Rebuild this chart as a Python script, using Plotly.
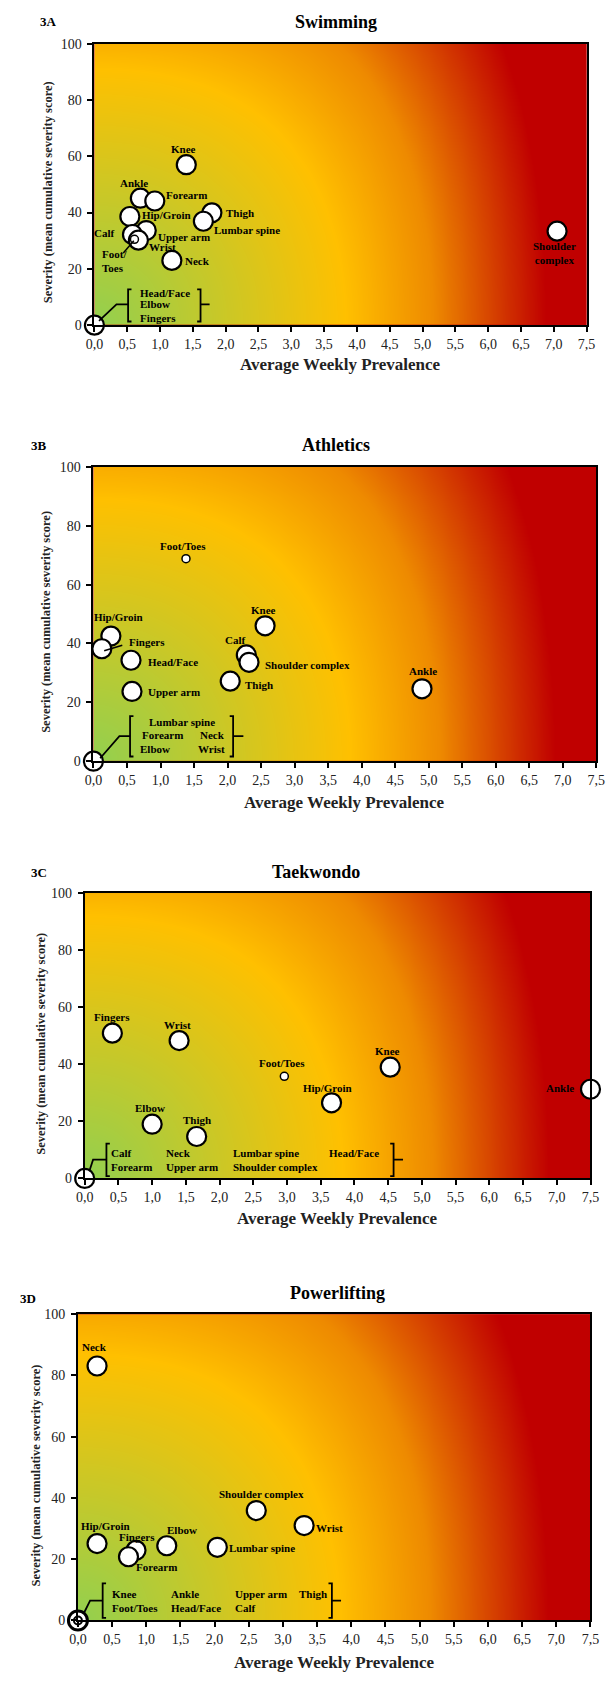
import numpy as np
import plotly.graph_objects as go

W, H = 616, 1681

# ---------------- DATA ----------------
x_tick_vals = [0, 0.5, 1, 1.5, 2, 2.5, 3, 3.5, 4, 4.5, 5, 5.5, 6, 6.5, 7, 7.5]
x_tick_labels = ["0,0", "0,5", "1,0", "1,5", "2,0", "2,5", "3,0", "3,5",
                 "4,0", "4,5", "5,0", "5,5", "6,0", "6,5", "7,0", "7,5"]
y_tick_vals = [0, 20, 40, 60, 80, 100]
y_tick_labels = ["0", "20", "40", "60", "80", "100"]

x_title = "Average Weekly Prevalence"
y_title = "Severity (mean cumulative severity score)"

# 3A Swimming
swim_parts = ["Knee", "Ankle", "Forearm", "Hip/Groin", "Thigh", "Lumbar spine",
              "Upper arm", "Calf", "Wrist", "Foot/Toes", "Neck", "Shoulder complex"]
swim_prev = [1.40, 0.70, 0.92, 0.54, 1.79, 1.66, 0.79, 0.58, 0.67, 0.61, 1.18, 7.05]
swim_sev = [57.0, 45.1, 44.1, 38.6, 39.9, 36.9, 33.6, 32.2, 30.2, 30.5, 23.0, 33.4]
swim_zero = [["Head/Face", "Elbow", "Fingers"]]

# 3B Athletics
ath_parts = ["Foot/Toes", "Knee", "Hip/Groin", "Fingers", "Head/Face", "Upper arm",
             "Calf", "Shoulder complex", "Thigh", "Ankle"]
ath_prev = [1.38, 2.56, 0.26, 0.125, 0.56, 0.575, 2.28, 2.32, 2.04, 4.90]
ath_sev = [68.8, 46.0, 42.5, 38.2, 34.3, 23.7, 36.1, 33.6, 27.2, 24.6]
ath_zero = [["Lumbar spine", "Forearm", "Elbow"], ["", "Neck", "Wrist"]]

# 3C Taekwondo
tkd_parts = ["Fingers", "Wrist", "Foot/Toes", "Knee", "Hip/Groin", "Ankle", "Elbow", "Thigh"]
tkd_prev = [0.41, 1.40, 2.96, 4.53, 3.66, 7.50, 1.00, 1.66]
tkd_sev = [50.9, 48.3, 35.8, 39.0, 26.5, 31.25, 19.0, 14.7]
tkd_zero = [["Calf", "Forearm"], ["Neck", "Upper arm"],
            ["Lumbar spine", "Shoulder complex"], ["Head/Face", ""]]

# 3D Powerlifting
pl_parts = ["Neck", "Shoulder complex", "Wrist", "Hip/Groin", "Elbow", "Lumbar spine",
            "Fingers", "Forearm"]
pl_prev = [0.28, 2.61, 3.31, 0.28, 1.30, 2.04, 0.85, 0.74]
pl_sev = [83.1, 35.9, 31.0, 25.1, 24.4, 23.9, 22.9, 20.8]
pl_zero = [["Knee", "Foot/Toes"], ["Ankle", "Head/Face"], ["Upper arm", "Calf"], ["Thigh", ""]]

# ---------------- STYLE / LAYOUT ----------------
SERIF = "Liberation Serif, Times New Roman, serif"

panels = [
    dict(letter="3A", title="Swimming", parts=swim_parts, prev=swim_prev, sev=swim_sev, zero=swim_zero,
         box=(88, 37, 595, 321), letter_xy=(41, 15), title_xy=(337, 15),
         xt_y=361, yt_x=41,
         small=["Foot/Toes"], double_origin=False,
         labels={
             "Knee": (-3, 16, "center", None), "Ankle": (-6, 15, "center", None),
             "Forearm": (9, 6, "left", None), "Hip/Groin": (10, 1, "left", None),
             "Thigh": (12, 0, "left", None), "Lumbar spine": (9, -9, "left", None),
             "Upper arm": (10, -6, "left", None), "Calf": (-15, 1, "right", None),
             "Wrist": (9, -7, "left", None), "Foot/Toes": (-34, -22, "left", "Foot/<br>Toes"),
             "Neck": (11, -1, "left", None), "Shoulder complex": (-3, -22, "center", "Shoulder<br>complex"),
         },
         leaders=[[(0.44, 25.6), (0.60, 30.0)]],
         bracket=dict(xl=0.513, xr=1.617, yt=12.7, yb=1.3, ym=7.4, tick=1.755,
                      lead=[(0.07, 1.5), (0.336, 7.4)],
                      cols=[0.67], rows=[11.5, 7.4, 2.5])),
    dict(letter="3B", title="Athletics", parts=ath_parts, prev=ath_prev, sev=ath_sev, zero=ath_zero,
         box=(87, 464, 605, 761), letter_xy=(31, 442), title_xy=(337, 442),
         xt_y=803, yt_x=38,
         small=["Foot/Toes"], double_origin=False,
         labels={
             "Foot/Toes": (-3, 13, "center", None), "Knee": (-2, 16, "center", None),
             "Hip/Groin": (8, 19, "center", None), "Fingers": (25, 7, "left", None),
             "Head/Face": (15, -2, "left", None), "Upper arm": (14, -1, "left", None),
             "Calf": (-11, 15, "center", None), "Shoulder complex": (14, -3, "left", None),
             "Thigh": (13, -4, "left", None), "Ankle": (1, 18, "center", None),
         },
         leaders=[[(0.16, 37.5), (0.43, 39.4)]],
         bracket=dict(xl=0.546, xr=2.083, yt=15.3, yb=1.6, ym=8.5, tick=2.236,
                      lead=[(0.10, 1.0), (0.387, 8.5)],
                      cols=[0.70, 1.55], rows=[13.4, 8.9, 4.0], col_x=[[0.80, 0.70, 0.67], [None, 1.565, 1.536]])),
    dict(letter="3C", title="Taekwondo", parts=tkd_parts, prev=tkd_prev, sev=tkd_sev, zero=tkd_zero,
         box=(78, 894, 599, 1182), letter_xy=(31, 873), title_xy=(316, 873),
         xt_y=1222, yt_x=33,
         small=["Foot/Toes"], double_origin=False,
         labels={
             "Fingers": (0, 16, "center", None), "Wrist": (-2, 16, "center", None),
             "Foot/Toes": (-2, 13, "center", None), "Knee": (-3, 16, "center", None),
             "Hip/Groin": (-4, 15, "center", None), "Ankle": (-15, 1, "right", None),
             "Elbow": (-2, 16, "center", None), "Thigh": (0, 16, "center", None),
         },
         leaders=[],
         bracket=dict(xl=0.322, xr=4.58, yt=12.2, yb=0.8, ym=6.6, tick=4.72,
                      lead=[(0.068, 2.5), (0.124, 6.6)],
                      cols=[0.362, 1.17, 2.176, 3.59], rows=[8.9, 4.05])),
    dict(letter="3D", title="Powerlifting", parts=pl_parts, prev=pl_prev, sev=pl_sev, zero=pl_zero,
         box=(71, 1319, 599, 1628), letter_xy=(20, 1303), title_xy=(338, 1298),
         xt_y=1670, yt_x=28,
         small=[], double_origin=True,
         labels={
             "Neck": (-3, 19, "center", None), "Shoulder complex": (5, 17, "center", None),
             "Wrist": (10, -2, "left", None), "Hip/Groin": (8, 18, "center", None),
             "Elbow": (15, 16, "center", None), "Lumbar spine": (10, -1, "left", None),
             "Fingers": (1, 13, "center", None), "Forearm": (28, -10, "center", None),
         },
         leaders=[],
         bracket=dict(xl=0.362, xr=3.716, yt=12.1, yb=0.86, ym=6.5, tick=3.85,
                      lead=[(0.083, 2.2), (0.178, 6.5)],
                      cols=[0.473, 1.335, 2.27, 3.21], rows=[8.6, 4.0])),
]

ZMAX = 2.5
grad_scale = [[0.0, "#92D050"], [1.0 / ZMAX, "#FFC000"], [1.35 / ZMAX, "#EE8A00"],
              [1.8 / ZMAX, "#C00000"], [1.0, "#C00000"]]

fig = go.Figure()
layout = dict(width=W, height=H, margin=dict(l=0, r=0, t=0, b=0),
              paper_bgcolor="white", plot_bgcolor="#C00000", showlegend=False)
annotations = []
shapes = []

def px(x):
    return x / W

def py(y):
    return 1 - y / H

for i, p in enumerate(panels, start=1):
    xs = "" if i == 1 else str(i)
    xa, ya = "x" + xs, "y" + xs
    x0, y0, x1, y1 = p["box"]
    wpx, hpx = x1 - x0, y1 - y0

    layout["xaxis" + xs] = dict(
        domain=[px(x0), px(x1)], range=[0, 7.5], anchor=ya,
        tickvals=x_tick_vals, ticktext=x_tick_labels, ticks="outside", ticklen=5,
        tickwidth=1.5, tickcolor="black", showline=True, linecolor="black", linewidth=2,
        mirror=True, showgrid=False, zeroline=False,
        tickfont=dict(family=SERIF, size=14, color="#222"))
    layout["yaxis" + xs] = dict(
        domain=[py(y1), py(y0)], range=[0, 100], anchor=xa,
        tickvals=y_tick_vals, ticktext=y_tick_labels, ticks="outside", ticklen=5,
        tickwidth=1.5, tickcolor="black", showline=True, linecolor="black", linewidth=2,
        mirror=True, showgrid=False, zeroline=False, ticklabelstandoff=3,
        tickfont=dict(family=SERIF, size=14, color="#222"))

    # background gradient (decorative, from the bottom-left corner); grid overshoots the axes
    gx = np.linspace(-0.3, 7.8, 82)
    gy = np.linspace(-4, 104, 55)
    GX, GY = np.meshgrid(np.clip(gx, 0, 7.5), np.clip(gy, 0, 100))
    R = 0.51 * wpx
    U = GX / 7.5 * wpx / R
    V = GY / 100 * hpx / R
    wgt = 1.0 / (1.0 + 0.39 * U ** 2)
    dist = np.sqrt(U ** 2 + wgt * V ** 2)
    fig.add_trace(go.Heatmap(x=gx, y=gy, z=dist, zmin=0, zmax=ZMAX, colorscale=grad_scale,
                             showscale=False, zsmooth="best", hoverinfo="skip",
                             xaxis=xa, yaxis=ya))

    # bubbles
    big = [k for k, n in enumerate(p["parts"]) if n not in p["small"]]
    sm = [k for k, n in enumerate(p["parts"]) if n in p["small"]]
    fig.add_trace(go.Scatter(x=[p["prev"][k] for k in big], y=[p["sev"][k] for k in big],
                             mode="markers", cliponaxis=False, xaxis=xa, yaxis=ya,
                             marker=dict(size=19, color="white", line=dict(color="black", width=2.2))))
    if sm:
        fig.add_trace(go.Scatter(x=[p["prev"][k] for k in sm], y=[p["sev"][k] for k in sm],
                                 mode="markers", cliponaxis=False, xaxis=xa, yaxis=ya,
                                 marker=dict(size=8, color="white", line=dict(color="black", width=1.5))))
    # zero-valued group at origin
    fig.add_trace(go.Scatter(x=[0], y=[0], mode="markers", cliponaxis=False, xaxis=xa, yaxis=ya,
                             marker=dict(size=19, color="white",
                                         line=dict(color="black", width=3 if p["double_origin"] else 2.2))))
    if p["double_origin"]:
        fig.add_trace(go.Scatter(x=[0], y=[0], mode="markers", cliponaxis=False, xaxis=xa, yaxis=ya,
                                 marker=dict(size=8, color="white", line=dict(color="black", width=2))))

    # point labels
    for k, name in enumerate(p["parts"]):
        dx, dy, anc, txt = p["labels"][name]
        annotations.append(dict(x=p["prev"][k], y=p["sev"][k], xref=xa, yref=ya,
                                text=txt or name, showarrow=False, xanchor=anc, yanchor="middle",
                                xshift=dx, yshift=dy, align="left" if anc == "left" else "center",
                                font=dict(family=SERIF, size=11, color="black", weight="bold")))
    for ld in p["leaders"]:
        (ax0, ay0), (ax1, ay1) = ld
        shapes.append(dict(type="line", xref=xa, yref=ya, x0=ax0, y0=ay0, x1=ax1, y1=ay1,
                           line=dict(color="black", width=1.5)))

    # bracket with zero-valued body parts
    b = p["bracket"]
    s = 3.5 / wpx * 7.5
    shapes.append(dict(type="path", xref=xa, yref=ya,
                       path=f"M {b['xl']+s},{b['yt']} L {b['xl']},{b['yt']} L {b['xl']},{b['yb']} L {b['xl']+s},{b['yb']}",
                       line=dict(color="black", width=1.8)))
    shapes.append(dict(type="path", xref=xa, yref=ya,
                       path=f"M {b['xr']-s},{b['yt']} L {b['xr']},{b['yt']} L {b['xr']},{b['yb']} L {b['xr']-s},{b['yb']}",
                       line=dict(color="black", width=1.8)))
    shapes.append(dict(type="line", xref=xa, yref=ya, x0=b["xr"], y0=b["ym"], x1=b["tick"], y1=b["ym"],
                       line=dict(color="black", width=1.8)))
    (l0x, l0y), (l1x, l1y) = b["lead"]
    shapes.append(dict(type="path", xref=xa, yref=ya,
                       path=f"M {l0x},{l0y} L {l1x},{l1y} L {b['xl']},{b['ym']}",
                       line=dict(color="black", width=1.8)))
    for c, col in enumerate(p["zero"]):
        for r, nm in enumerate(col):
            if not nm:
                continue
            cx = b["col_x"][c][r] if "col_x" in b else b["cols"][c]
            annotations.append(dict(x=cx, y=b["rows"][r], xref=xa, yref=ya, text=nm,
                                    showarrow=False, xanchor="left", yanchor="middle",
                                    font=dict(family=SERIF, size=11, color="black", weight="bold")))

    # titles
    annotations.append(dict(x=px(p["title_xy"][0]), y=py(p["title_xy"][1]), xref="paper", yref="paper",
                            text=p["title"], showarrow=False, xanchor="center", yanchor="middle",
                            font=dict(family=SERIF, size=18, color="black", weight="bold")))
    annotations.append(dict(x=px(p["letter_xy"][0]), y=py(p["letter_xy"][1]), xref="paper", yref="paper",
                            text=p["letter"], showarrow=False, xanchor="center", yanchor="middle",
                            font=dict(family=SERIF, size=13, color="black", weight="bold")))
    annotations.append(dict(x=px((x0 + x1) / 2), y=py(p["xt_y"]), xref="paper", yref="paper",
                            text=x_title, showarrow=False, xanchor="center", yanchor="middle",
                            font=dict(family=SERIF, size=17, color="#222", weight="bold")))
    annotations.append(dict(x=px(p["yt_x"]), y=py((y0 + y1) / 2 + 8), xref="paper", yref="paper",
                            text=y_title, showarrow=False, xanchor="center", yanchor="middle",
                            textangle=-90,
                            font=dict(family=SERIF, size=12.5, color="#222", weight="bold")))

layout["annotations"] = annotations
layout["shapes"] = shapes
fig.update_layout(**layout)
fig.write_html("out.html", config={"displayModeBar": False},
               post_script="document.body.style.margin='0px';document.body.style.overflow='hidden';")
